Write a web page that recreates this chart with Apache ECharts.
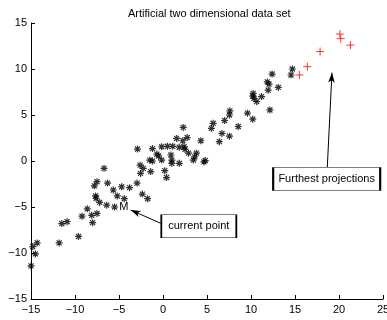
<!DOCTYPE html>
<html>
<head>
<meta charset="utf-8">
<script src="https://cdn.jsdelivr.net/npm/echarts@6/dist/echarts.min.js"></script>
<style>
  html, body { margin: 0; padding: 0; background: #fff; }
  #chart { width: 387px; height: 320px; }
</style>
</head>
<body>
<div id="chart"></div>
<script>
// data points
const dataPoints = [
  [-15.0, -11.4], [-14.8, -9.3], [-14.3, -8.9], [-14.5, -10.1], [-11.8, -8.9],
  [-11.5, -6.8], [-10.9, -6.6], [-9.6, -8.2], [-9.2, -6.0], [-8.6, -5.2],
  [-8.1, -5.9], [-8.0, -6.7], [-7.5, -5.7], [-7.65, -3.8], [-7.6, -4.05],
  [-7.2, -4.5], [-6.4, -4.8], [-5.5, -5.0], [-6.7, -0.8], [-7.8, -2.7],
  [-7.5, -2.25], [-6.3, -2.4], [-5.65, -3.15], [-5.2, -3.8], [-4.7, -2.8],
  [-3.8, -2.9], [-4.4, -4.1], [-2.95, -2.4], [-2.55, -1.35], [-2.6, -0.45],
  [-2.25, -0.8], [-2.35, -3.6], [-1.75, -4.1], [-1.4, -1.15], [-1.5, 0.1],
  [-1.2, 0.0], [-0.7, 0.75], [-0.5, 0.55], [-0.15, 0.1], [0.2, -1.05],
  [0.4, -1.8], [0.9, 0.65], [1.0, 0.1], [1.0, -0.25], [1.85, -0.25],
  [-2.9, 1.3], [-1.2, 1.35], [-0.15, 1.55], [0.5, 1.6], [1.1, 1.6],
  [1.55, 2.45], [2.3, 3.65], [2.75, 2.55], [2.25, 2.2], [2.4, 1.55],
  [2.5, 1.27], [1.85, 1.5], [4.3, 2.2], [2.9, 0.85], [3.8, 0.85],
  [3.6, 0.45], [4.8, 0.05], [3.45, 0.1], [4.65, -0.1], [5.5, 3.55],
  [5.7, 4.1], [6.4, 2.1], [6.7, 3.0], [7.55, 2.7], [7.0, 4.4],
  [7.55, 5.0], [7.6, 5.45], [8.55, 3.75], [9.6, 5.2], [10.2, 4.55],
  [10.25, 7.35], [10.2, 7.05], [10.35, 6.8], [10.65, 6.45], [11.2, 7.0],
  [11.95, 7.7], [11.85, 8.6], [12.05, 8.35], [12.15, 5.55], [13.1, 8.0],
  [12.4, 9.45], [14.7, 10.0], [14.55, 9.35]
]
const furthestPoints = [
  [15.5, 9.35], [16.4, 10.25], [17.85, 11.9], [20.1, 13.8], [20.2, 13.3], [21.3, 12.6]
]
const xTicks = [-15, -10, -5, 0, 5, 10, 15, 20, 25]
const yTicks = [-15, -10, -5, 0, 5, 10, 15]

// annotations, in data units
const currentLabel = [-4.45, -5.03]
const currentBox = [4.07, -7.1]
const currentArrow = [[-0.26, -6.77], [-3.67, -5.33]]
const furthestBox = [18.6, -1.96]
const furthestArrow = [[18.67, -0.68], [19.2, 9.6]]

const font = 'Liberation Sans, Arial, Helvetica, sans-serif'
const starPath = 'path://M0,-5L0,5M-5,0L5,0M-3.6,-3.6L3.6,3.6M-3.6,3.6L3.6,-3.6'
const plusPath = 'path://M0,-5L0,5M-5,0L5,0'
const fmt = (v) => String(v).replace('-', '\u2212')

const chart = echarts.init(document.getElementById('chart'))
const option = {
  animation: false,
  backgroundColor: '#fff',
  title: {
    text: 'Artificial two dimensional data set',
    left: 123,
    top: 3,
    textStyle: { fontFamily: font, fontSize: 11, fontWeight: 'normal', color: '#000' },
  },
  grid: { left: 31, right: 4, top: 23, bottom: 21, containLabel: false, outerBoundsMode: 'none' },
  xAxis: {
    type: 'value',
    min: xTicks[0],
    max: xTicks[xTicks.length - 1],
    interval: 5,
    splitLine: { show: false },
    axisLine: { onZero: false, lineStyle: { color: '#000', width: 1 } },
    axisTick: { inside: true, length: 4, lineStyle: { color: '#000' } },
    axisLabel: { color: '#000', fontFamily: font, fontSize: 11, margin: 5, formatter: fmt },
  },
  yAxis: {
    type: 'value',
    min: yTicks[0],
    max: yTicks[yTicks.length - 1],
    interval: 5,
    splitLine: { show: false },
    axisLine: { onZero: false, lineStyle: { color: '#000', width: 1 } },
    axisTick: { inside: true, length: 4, lineStyle: { color: '#000' } },
    axisLabel: { color: '#000', fontFamily: font, fontSize: 11, margin: 4, formatter: fmt },
  },
  series: [
    {
      type: 'scatter',
      data: dataPoints,
      symbol: starPath,
      symbolSize: 7,
      itemStyle: { color: 'none', borderColor: '#000', borderWidth: 1.2 },
      emphasis: { disabled: true },
      markPoint: {
        silent: true,
        data: [
          {
            coord: currentLabel,
            symbol: 'rect',
            symbolSize: 0,
            label: {
              show: true, formatter: 'M', color: '#000',
              fontFamily: font, fontSize: 11, position: 'inside',
            },
          },
        ],
      },
    },
    {
      type: 'scatter',
      data: furthestPoints,
      symbol: plusPath,
      symbolSize: 8,
      itemStyle: { color: 'none', borderColor: '#ff0000', borderWidth: 1 },
      emphasis: { disabled: true },
      markLine: {
        silent: true,
        symbol: ['none', 'arrow'],
        symbolSize: [5, 10],
        label: { show: false },
        lineStyle: { color: '#000', width: 1, type: 'solid' },
        data: [
          [{ coord: currentArrow[0] }, { coord: currentArrow[1] }],
          [{ coord: furthestArrow[0] }, { coord: furthestArrow[1] }],
        ],
      },
      markPoint: {
        silent: true,
        symbol: 'rect',
        itemStyle: { color: '#fff', borderColor: '#000', borderWidth: 1 },
        label: {
          show: true, position: 'inside', color: '#000',
          fontFamily: font, fontSize: 11,
        },
        data: [
          { coord: currentBox, symbolSize: [75, 23], label: { formatter: 'current point' } },
          { coord: furthestBox, symbolSize: [107, 23], label: { formatter: 'Furthest projections' } },
        ],
      },
    },
  ],
}
chart.setOption(option)
</script>
</body>
</html>
